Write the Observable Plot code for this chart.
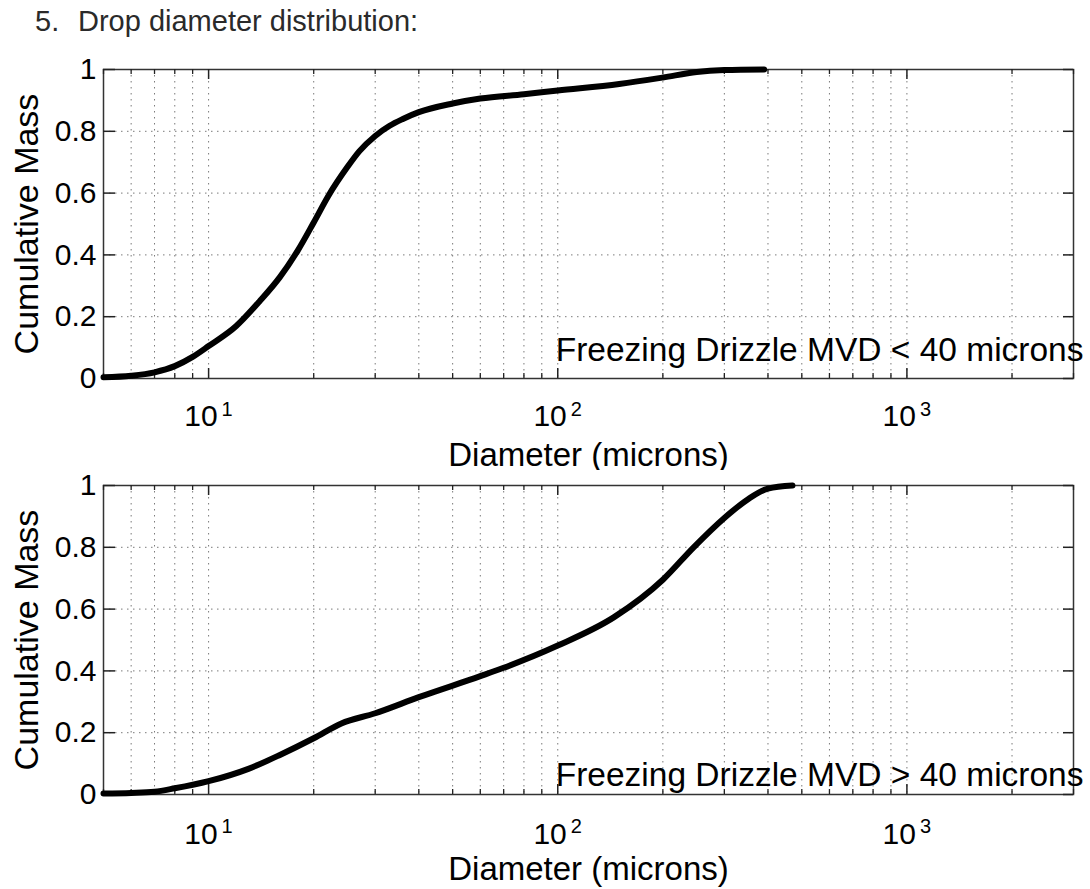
<!DOCTYPE html>
<html><head><meta charset="utf-8">
<script src="https://cdn.jsdelivr.net/npm/d3@7"></script>
<script src="https://cdn.jsdelivr.net/npm/@observablehq/plot@0.6"></script>
<style>
body{margin:0;background:#fff;font-family:"Liberation Sans",Arial,sans-serif;}
#wrap{position:relative;width:1090px;height:889px;overflow:hidden;background:#fff;}
.t{position:absolute;font-size:29px;line-height:28px;color:#2a2a2a;white-space:nowrap;}
#p1{position:absolute;left:0;top:40px;}
#p2{position:absolute;left:0;top:470px;}
</style></head><body>
<div id="wrap">
<div class="t" style="left:35px;top:7px">5.</div>
<div class="t" style="left:78px;top:7px">Drop diameter distribution:</div>
<div id="p1"></div><div id="p2"></div>
</div>
<script>
// Panel 1: Freezing Drizzle MVD < 40 microns
const diameterSmall = [5, 6, 7, 8, 9, 10, 12, 14, 16, 18, 20, 22, 25, 27, 30, 33, 36, 40, 50, 60, 80, 100, 150, 200, 250, 300, 390];
const massSmall     = [0.004, 0.009, 0.02, 0.04, 0.07, 0.105, 0.17, 0.25, 0.328, 0.414, 0.505, 0.59, 0.685, 0.735, 0.785, 0.818, 0.84, 0.862, 0.89, 0.906, 0.92, 0.932, 0.953, 0.974, 0.992, 0.998, 1.0];
// Panel 2: Freezing Drizzle MVD > 40 microns
const diameterLarge = [5, 6, 7, 8, 10, 13, 16, 20, 24, 30, 40, 60, 70, 100, 145, 200, 245, 300, 350, 400, 470];
const massLarge     = [0.003, 0.005, 0.009, 0.02, 0.043, 0.083, 0.128, 0.182, 0.23, 0.263, 0.315, 0.383, 0.41, 0.482, 0.574, 0.695, 0.8, 0.895, 0.955, 0.99, 1.0];

const panelLabels = ["Freezing Drizzle MVD < 40 microns", "Freezing Drizzle MVD > 40 microns"];
const xGridValues = [5, 6, 7, 8, 9, 10, 20, 30, 40, 50, 60, 70, 80, 90, 100, 200, 300, 400, 500, 600, 700, 800, 900, 1000, 2000, 3000];
const decadeTicks = [10, 100, 1000];
const decadeExponents = ["1", "2", "3"];
const yTicks = [0, 0.2, 0.4, 0.6, 0.8, 1];
const xLabel = "Diameter (microns)";
const yLabel = "Cumulative Mass";

const FONT = '"Liberation Sans", Arial, Helvetica, sans-serif';

function panel(diam, mass, label, o) {
  const W = 1090, mL = 103, mR = 17;
  const frameH = o.height - o.mt - o.mb;
  const frameW = W - mL - mR;
  const data = diam.map((d, i) => ({d, m: mass[i]}));
  const minor = xGridValues.filter(v => !decadeTicks.includes(v));
  const grid = {stroke: "#7a7a7a", strokeDasharray: "1.5,4.5", strokeWidth: 1};
  return Plot.plot({
    width: W, height: o.height,
    marginLeft: mL, marginRight: mR, marginTop: o.mt, marginBottom: o.mb,
    style: {fontFamily: FONT, fontSize: "30px", background: "white", color: "black", overflow: "visible"},
    x: {type: "log", domain: [5, 3000], axis: null},
    y: {domain: [0, 1], axis: null},
    marks: [
      Plot.ruleX(xGridValues, {x: d => d, ...grid}),
      Plot.ruleY(yTicks.slice(1, -1), {y: d => d, ...grid}),
      Plot.frame({stroke: "#333", strokeWidth: 1.5}),
      Plot.tickX(minor, {x: d => d, insetTop: frameH - 5, strokeWidth: 1.3, stroke: "#222"}),
      Plot.tickX(minor, {x: d => d, insetBottom: frameH - 5, strokeWidth: 1.3, stroke: "#222"}),
      Plot.tickX(decadeTicks, {x: d => d, insetTop: frameH - 10, strokeWidth: 1.5, stroke: "#222"}),
      Plot.tickX(decadeTicks, {x: d => d, insetBottom: frameH - 10, strokeWidth: 1.5, stroke: "#222"}),
      Plot.tickY(yTicks, {y: d => d, insetRight: frameW - 12, strokeWidth: 1.5, stroke: "#222"}),
      Plot.tickY(yTicks, {y: d => d, insetLeft: frameW - 10, strokeWidth: 1.5, stroke: "#222"}),
      Plot.line(data, {x: "d", y: "m", stroke: "black", strokeWidth: 6, curve: "monotone-x"}),
      Plot.axisY({ticks: yTicks, tickSize: 0, tickPadding: 7, fontSize: 30, label: null, tickFormat: d => `${d}`}),
      Plot.text(decadeTicks, {x: d => d, text: () => "10", frameAnchor: "bottom", textAnchor: "end", lineAnchor: "bottom", dx: 9, dy: o.tickDy, fontSize: 30}),
      Plot.text(decadeTicks, {x: d => d, text: (d, i) => decadeExponents[i], frameAnchor: "bottom", textAnchor: "start", lineAnchor: "bottom", dx: 13, dy: o.expDy, fontSize: 20}),
      Plot.text([xLabel], {frameAnchor: "bottom", lineAnchor: "bottom", dy: o.labelDy, fontSize: 33}),
      Plot.text([yLabel], {frameAnchor: "left", textAnchor: "middle", lineAnchor: "middle", rotate: -90, dx: -76, fontSize: 34}),
      Plot.text([label], {frameAnchor: "bottom-right", textAnchor: "end", lineAnchor: "bottom", dx: 10, dy: o.annDy, fontSize: 33.5})
    ]
  });
}

document.getElementById("p1").appendChild(
  panel(diameterSmall, massSmall, panelLabels[0], {height: 430, mt: 29, mb: 92, tickDy: 47, expDy: 37, labelDy: 87, annDy: -18})
);
document.getElementById("p2").appendChild(
  panel(diameterLarge, massLarge, panelLabels[1], {height: 419, mt: 15, mb: 95, tickDy: 49, expDy: 38, labelDy: 85, annDy: -9})
);
</script>
</body></html>
